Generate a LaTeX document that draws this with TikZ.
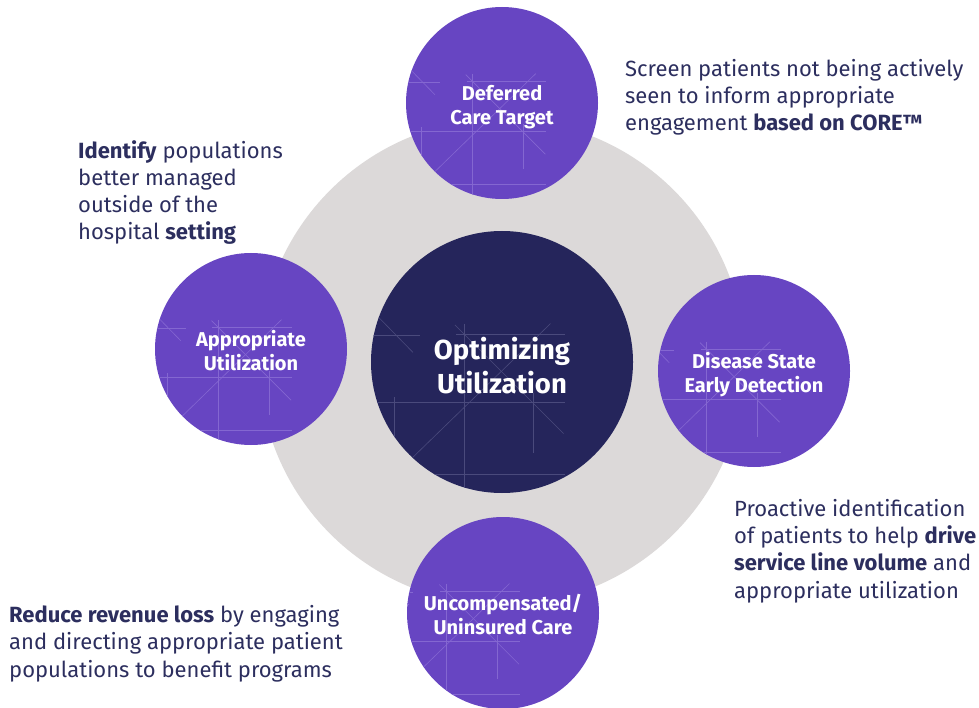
\documentclass[tikz,border=0pt]{standalone}
\usepackage{fontspec}
\setmainfont{Fira Sans}
\usepackage{tikz}

\definecolor{bubblefill}{HTML}{6745C2}
\definecolor{bubbleline}{HTML}{8467D1}
\definecolor{hubfill}{HTML}{25255B}
\definecolor{hubline}{HTML}{4A4A7C}
\definecolor{ringfill}{HTML}{DCD9D9}
\definecolor{ink}{HTML}{2C2E5E}

% faint construction lines inside a circle, #1 = radius, #2 = colour
\newcommand{\gridlines}[2]{%
  \begin{scope}[shift={(path picture bounding box.center)}, x=#1pt, y=-#1pt]
    \foreach \xa/\ya/\xb/\yb in {-0.61/-0.77/-0.16/-0.31, -0.96/-0.44/-0.11/-0.44,
        -0.82/-0.34/-0.82/0.21, -0.99/-0.08/-0.71/0.20, -0.61/-0.14/-0.99/0.24,
        -1/0.07/1/0.07, -0.30/0.03/-0.30/1, -1/0.62/1/0.62, 0.23/-0.53/0.23/1,
        0.16/-0.52/0.99/0.31, 0.17/-0.45/1/-0.45, -0.51/0.83/0.89/-0.53,
        0.76/0/0.76/0.46}
      \draw[#2, line width=0.6pt] (\xa,\ya) -- (\xb,\yb);
  \end{scope}}

\begin{document}
\begin{tikzpicture}[x=1pt, y=-1pt,
    ring/.style={circle, fill=ringfill, minimum size=486pt, inner sep=0pt},
    bubble/.style={circle, fill=bubblefill, minimum size=192pt, inner sep=0pt,
      text=white, align=center, font=\fontsize{20}{24}\selectfont\bfseries,
      text height=43pt, text depth=0pt,
      path picture={\gridlines{96}{bubbleline}}},
    hub/.style={circle, fill=hubfill, minimum size=262pt, inner sep=0pt,
      text=white, align=center, font=\fontsize{27.5}{34}\selectfont\bfseries,
      text height=62pt, text depth=0pt,
      path picture={\gridlines{131}{hubline}}},
    note/.style={anchor=base west, align=left, inner sep=0pt, text=ink,
      font=\fontsize{22}{27.3}\selectfont}]
  \useasboundingbox (0,0) rectangle (979,708);

  \node[ring] (ring) at (502,362) {};
  \node[hub] (core) at (502,362) {Optimizing\\Utilization};

  \node[bubble] (defer)  at (502,103) {Deferred\\Care Target};
  \node[bubble] (approp) at (251,349) {Appropriate\\Utilization};
  \node[bubble] (detect) at (754,371) {Disease State\\Early Detection};
  \node[bubble] (uncomp) at (503,613) {Uncompensated/\\Uninsured Care};

  % notes are anchored on the baseline of their last line
  \node[note] (screen) at (625,131)
    {Screen patients not being actively\\seen to inform appropriate\\engagement \textbf{based on CORE™}};
  \node[note] (identify) at (78,240)
    {\textbf{Identify} populations\\better managed\\outside of the\\hospital \textbf{setting}};
  \node[note] (proactive) at (734,598)
    {Proactive identification\\of patients to help \textbf{drive}\\\textbf{service line volume} and\\appropriate utilization};
  \node[note] (reduce) at (9,677)
    {\textbf{Reduce revenue loss} by engaging\\and directing appropriate patient\\populations to benefit programs};
\end{tikzpicture}
\end{document}
